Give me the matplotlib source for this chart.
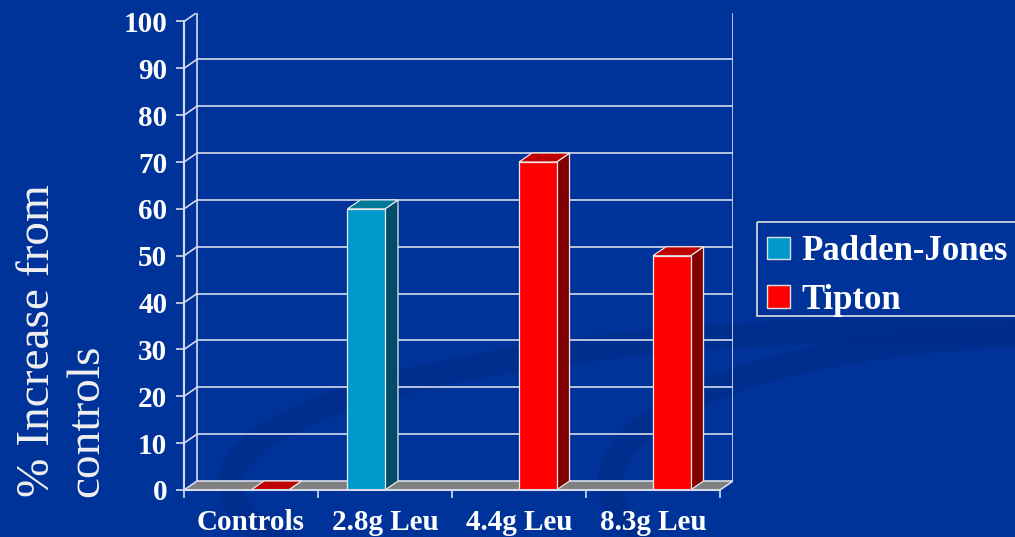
import numpy as np
import matplotlib
matplotlib.use("Agg")
from matplotlib import pyplot as plt
from matplotlib.patches import Polygon, Ellipse, Patch, Rectangle

# values (% increase from controls); nan = no bar for that study
categories = ["Controls", "2.8g Leu", "4.4g Leu", "8.3g Leu"]
padden_jones = [np.nan, 60, np.nan, np.nan]
tipton = [0, np.nan, 70, 50]
series_names = ["Padden-Jones", "Tipton"]
yticks = list(range(0, 101, 10))

bg = "#003399"
line_col = "#D6DAEC"
# front, side, top colours for each series
faces = [("#0099CC", "#004C66", "#007A99"),
         ("#FF0000", "#800000", "#C00000")]

W, H = 1015, 537
fig = plt.figure(figsize=(W / 100, H / 100), dpi=100, facecolor=bg)

# background swooshes
bgax = fig.add_axes([0, 0, 1, 1], zorder=-5)
bgax.set_xlim(0, W)
bgax.set_ylim(H, 0)
bgax.axis("off")
for cx, cy, a, b in [(920, 485, 690, 155), (1050, 485, 440, 150)]:
    bgax.add_patch(Ellipse((cx, cy), 2 * a, 2 * b, fill=False,
                           edgecolor="#00287F", lw=18, alpha=0.4))

# plot box: front plane 184..720 px wide, 0..100 = 490..21.5 px
dx = 13 / 134
dy = 9 / 4.685
ax = fig.add_axes([184 / W, 47 / H, 549 / W, 477.5 / H])
ax.set_facecolor("none")
ax.set_xlim(0, 4 + dx)
ax.set_ylim(0, 100 + dy)
n = len(categories)

# floor
ax.add_patch(Polygon([(0, 0), (n, 0), (n + dx, dy), (dx, dy)],
                     closed=True, facecolor="#808080", edgecolor="none", zorder=1))
ax.plot([n, n + dx], [0, dy], color=line_col, lw=1.2, zorder=2)

# back wall gridlines and left wall diagonals
for v in yticks:
    ax.plot([dx, n + dx], [v + dy, v + dy], color=line_col, lw=1.2, zorder=2)
    ax.plot([0, dx], [v, v + dy], color=line_col, lw=1.2, zorder=2)
ax.plot([dx, dx], [dy, 100 + dy], color=line_col, lw=1.2, zorder=2)
ax.plot([n + dx, n + dx], [dy, 100 + dy], color=line_col, lw=1.2, zorder=2)


def bar3d(x0, x1, h, cols, z):
    front, side, top = cols
    kw = dict(closed=True, edgecolor="#E8E8E8", lw=0.9, zorder=z)
    ax.add_patch(Polygon([(x1, 0), (x1 + dx, dy), (x1 + dx, h + dy), (x1, h)],
                         facecolor=side, **kw))
    ax.add_patch(Polygon([(x0, h), (x0 + dx, h + dy), (x1 + dx, h + dy), (x1, h)],
                         facecolor=top, **kw))
    if h > 0:
        ax.add_patch(Polygon([(x0, 0), (x1, 0), (x1, h), (x0, h)],
                             facecolor=front, **kw))


bw = 0.28
for i in range(n):
    c = i + 0.5
    for k, vals in enumerate([padden_jones, tipton]):
        v = vals[i]
        if np.isnan(v):
            continue
        x0 = c - bw if k == 0 else c
        bar3d(x0, x0 + bw, v, faces[k], 5 + i)

# axes
for s in ["top", "right"]:
    ax.spines[s].set_visible(False)
ax.spines["left"].set_bounds(0, 100)
ax.spines["bottom"].set_bounds(0, n)
for s in ["left", "bottom"]:
    ax.spines[s].set_color(line_col)
    ax.spines[s].set_linewidth(1.5)
    ax.spines[s].set_zorder(20)

tick_font = dict(family="Liberation Serif", weight="bold", size=21)
ax.set_yticks(yticks)
ax.set_yticklabels([str(v) for v in yticks], fontdict=tick_font, color="white")
ax.tick_params(axis="y", colors=line_col, labelcolor="white", length=6, width=1.2, pad=6)
ax.set_xticks([i + 0.5 for i in range(n)])
ax.set_xticklabels(categories, fontdict=tick_font, color="white")
ax.set_xticks(range(n + 1), minor=True)
ax.tick_params(axis="x", which="major", length=0, pad=14, labelcolor="white")
ax.tick_params(axis="x", which="minor", length=6, width=1.2, colors=line_col)

fig.text(62 / W, 1 - 497 / H, "% Increase from\ncontrols", rotation=90,
         rotation_mode="anchor", ha="left", va="center", multialignment="left",
         family="Liberation Serif", size=34, color="#F0F0F0")

# legend box runs off the right edge
bgax.add_patch(Rectangle((757, 222), 280, 94, fill=False, edgecolor="#E0E0E0",
                         lw=1.2, zorder=3))
handles = [Patch(facecolor=faces[k][0], edgecolor="#E0E0E0", lw=1) for k in range(2)]
leg = fig.legend(handles, series_names, loc="center left",
                 bbox_to_anchor=(767 / W, 1 - 276 / H), frameon=False,
                 prop=dict(family="Liberation Serif", weight="bold", size=25),
                 handlelength=0.66, handleheight=0.62, handletextpad=0.32,
                 borderpad=0, labelspacing=0.45, borderaxespad=0)
for t in leg.get_texts():
    t.set_color("white")

fig.savefig("out.png", dpi=100, facecolor=bg)
